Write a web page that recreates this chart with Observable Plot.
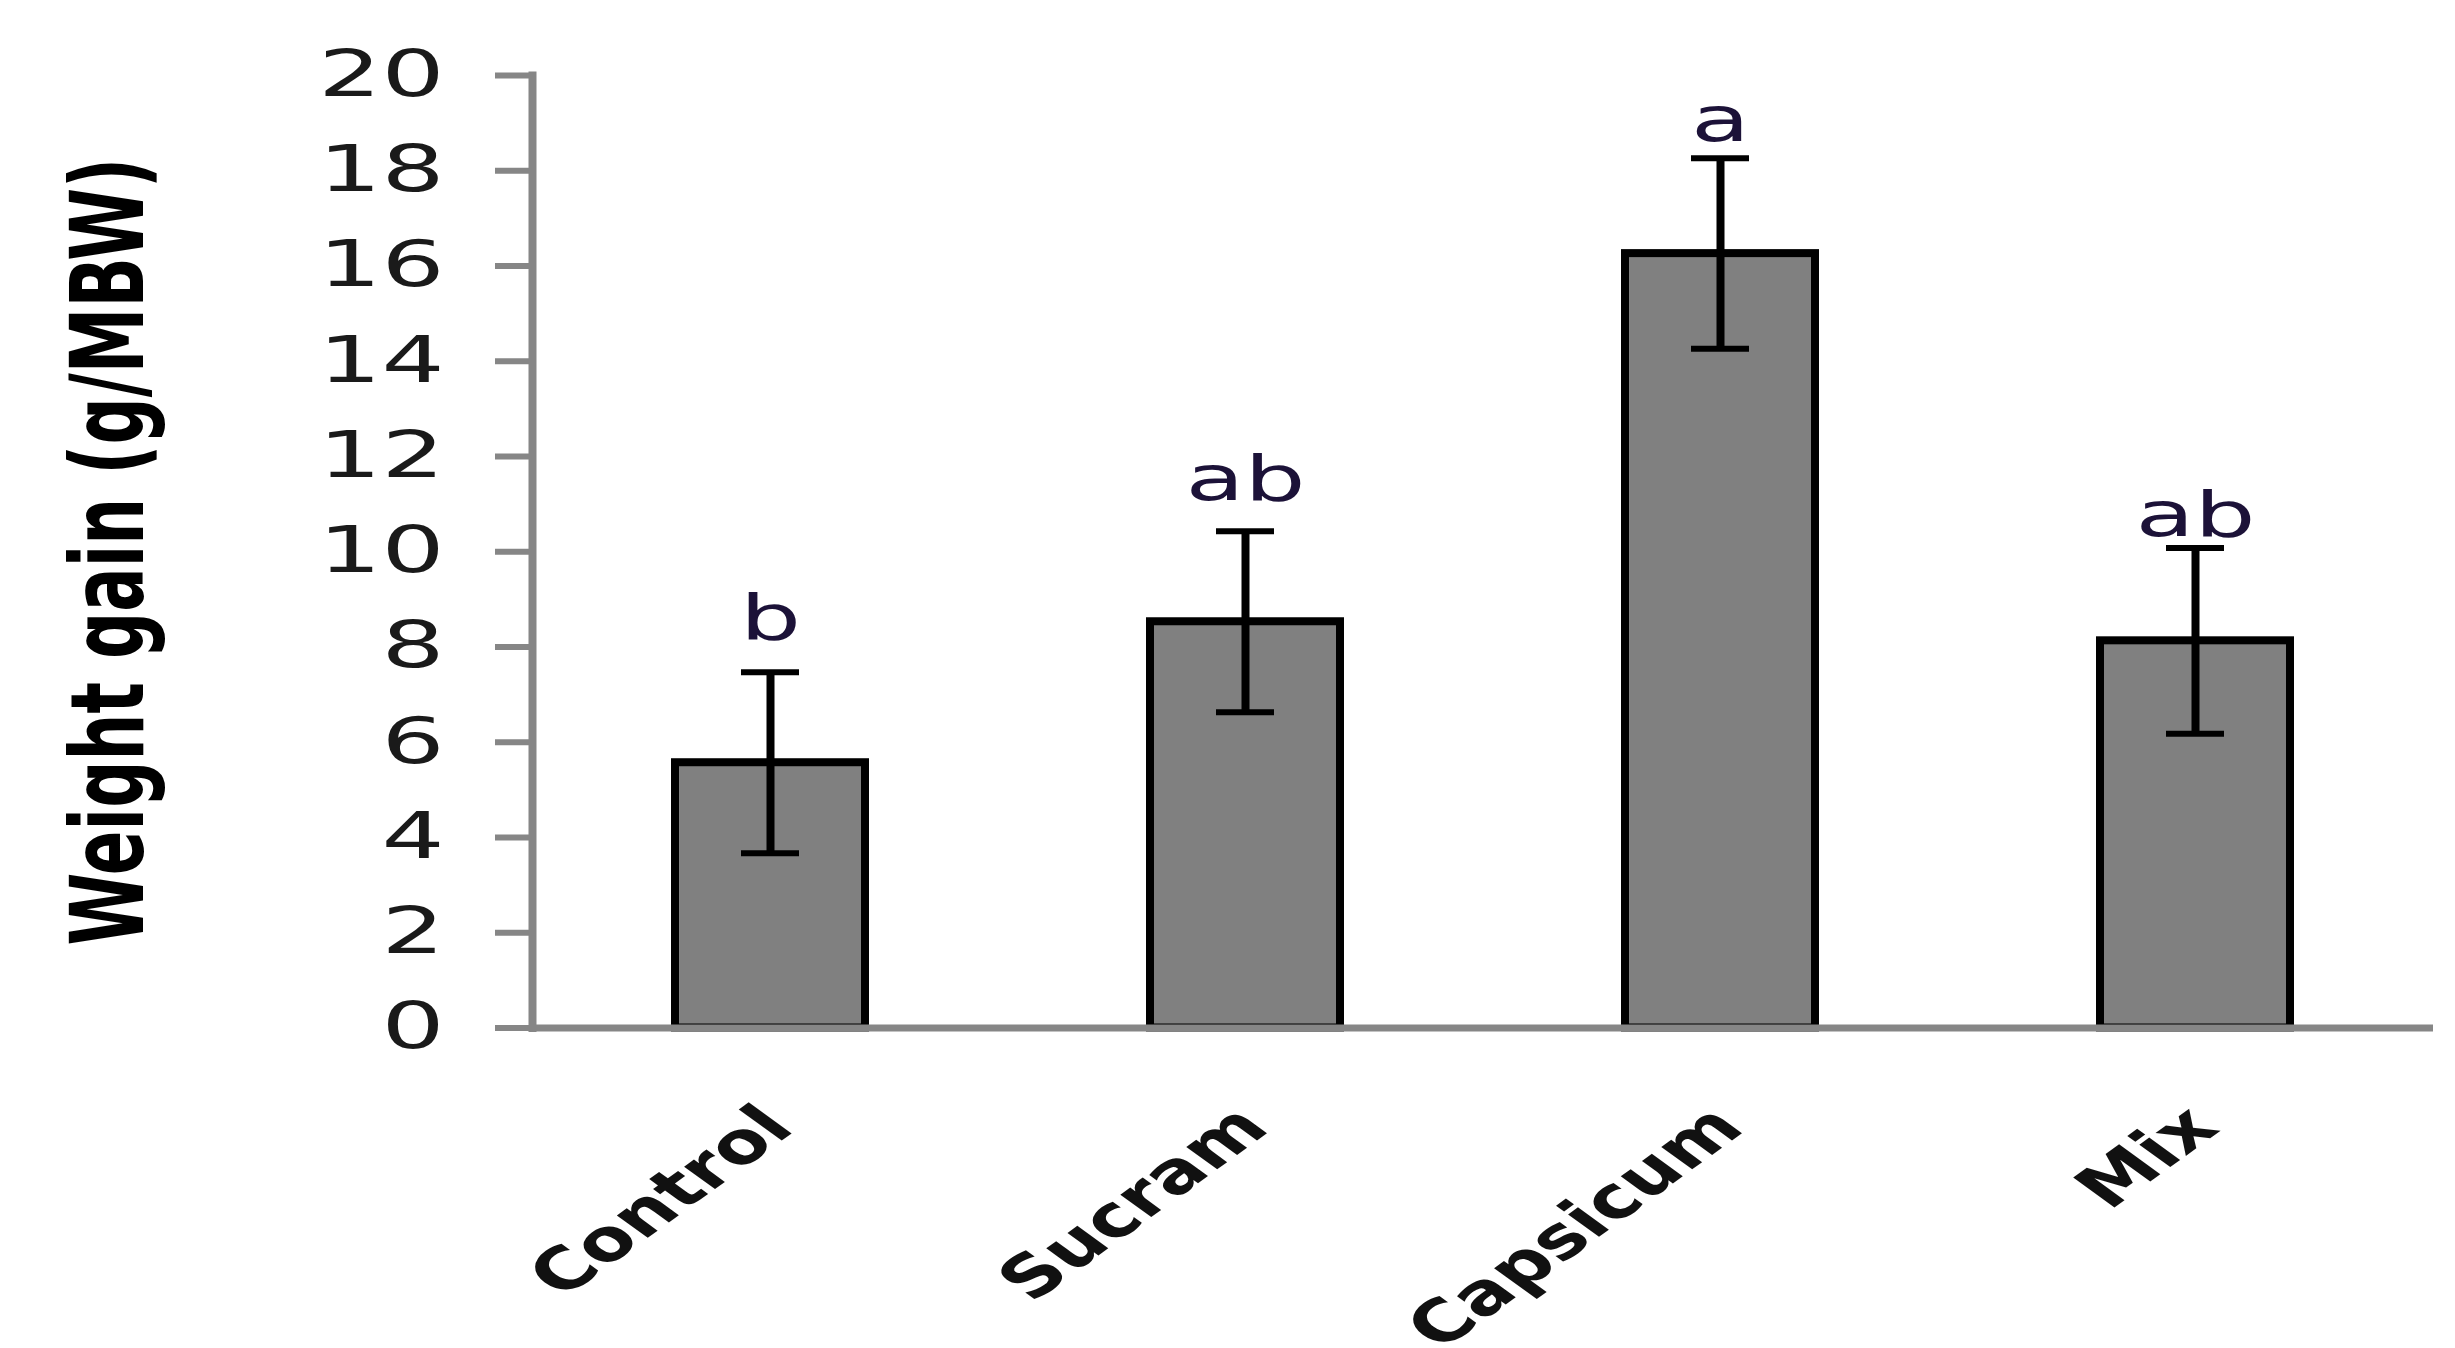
<!DOCTYPE html>
<html>
<head>
<meta charset="utf-8">
<script src="https://cdn.jsdelivr.net/npm/d3@7"></script>
<script src="https://cdn.jsdelivr.net/npm/@observablehq/plot@0.6"></script>
<style>
  html, body { margin: 0; padding: 0; background: #fff; }
  #chart { width: 2455px; height: 1348px; overflow: hidden; }
</style>
</head>
<body>
<div id="chart"></div>
<script>
// ---- data ----
const categories = ["Control", "Sucram", "Capsicum", "Mix"];
const means = [5.57, 8.53, 16.26, 8.13];
const errors = [1.9, 1.9, 2.0, 1.95];
const letters = ["b", "ab", "a", "ab"];
// value (in g/MBW) at which each significance letter sits
const letterY = [8.17, 11.08, 18.62, 10.34];
const yTicks = [0, 2, 4, 6, 8, 10, 12, 14, 16, 18, 20];
const yTitle = "Weight gain (g/MBW)";

const rows = categories.map((c, i) => ({
  cat: c, mean: means[i], lo: means[i] - errors[i], hi: means[i] + errors[i],
  letter: letters[i], ly: letterY[i]
}));

const axisGray = "#868686";

const svg = Plot.plot({
  width: 2455,
  height: 1348,
  marginLeft: 532,
  marginRight: 22,
  marginTop: 75,
  marginBottom: 320.5,
  style: { fontFamily: "DejaVu Sans, Verdana, sans-serif", background: "#fff", color: "#000" },
  x: { domain: categories, paddingInner: 0.6, paddingOuter: 0.3, label: null },
  y: { domain: [0, 20], label: null },
  marks: [
    Plot.barY(rows, { x: "cat", y: "mean", fill: "#808080", stroke: "#000", strokeWidth: 8 }),
    Plot.frame({ anchor: "left", stroke: axisGray, strokeWidth: 8 }),
    Plot.ruleY([0], { stroke: axisGray, strokeWidth: 7 }),
    Plot.axisY({
      ticks: yTicks, tickSize: 37, tickPadding: 51, stroke: axisGray, strokeWidth: 6,
      fontSize: 64, fill: "#1a1a1a", tickFormat: d => String(d)
    }),
    Plot.axisX({
      tickSize: 0, tickRotate: -45, tickPadding: 102, dx: 26,
      textAnchor: "end", lineAnchor: "bottom",
      fontSize: 58, fontWeight: "bold", fill: "#111"
    }),
    Plot.ruleX(rows, { x: "cat", y1: "lo", y2: "hi", stroke: "#000", strokeWidth: 8 }),
    Plot.tickY(rows, { x: "cat", y: "hi", stroke: "#000", strokeWidth: 6, insetLeft: 66, insetRight: 66 }),
    Plot.tickY(rows, { x: "cat", y: "lo", stroke: "#000", strokeWidth: 6, insetLeft: 66, insetRight: 66 }),
    Plot.text(rows, {
      x: "cat", y: "ly", text: "letter", lineAnchor: "bottom",
      fontSize: 62, fill: "#1c1238", ariaLabel: "letters"
    }),
    Plot.text([yTitle], {
      frameAnchor: "left", rotate: -90, dx: -422, textAnchor: "middle", lineAnchor: "middle",
      fontSize: 66, fontWeight: "bold", fill: "#000", ariaLabel: "y-title"
    })
  ]
});

// Reproduce the horizontally stretched lettering of the original figure.
const stretchFor = {
  "y-axis tick label": 1.55,
  "x-axis tick label": 1.38,
  "letters": 1.55,
  "y-title": 1.8
};
svg.querySelectorAll("text").forEach(t => {
  const g = t.closest("g[aria-label]");
  const s = (g && stretchFor[g.getAttribute("aria-label")]) || 1.55;
  const tr = t.getAttribute("transform") || "";
  const m = tr.match(/^\s*translate\([^)]*\)/);
  if (m) {
    t.setAttribute("transform", m[0] + ` scale(${s},1)` + tr.slice(m[0].length));
  } else {
    const x = +(t.getAttribute("x") || 0), y = +(t.getAttribute("y") || 0);
    t.removeAttribute("x"); t.removeAttribute("y");
    t.setAttribute("transform", `translate(${x},${y}) scale(${s},1) ` + tr);
  }
});

document.getElementById("chart").appendChild(svg);
</script>
</body>
</html>
